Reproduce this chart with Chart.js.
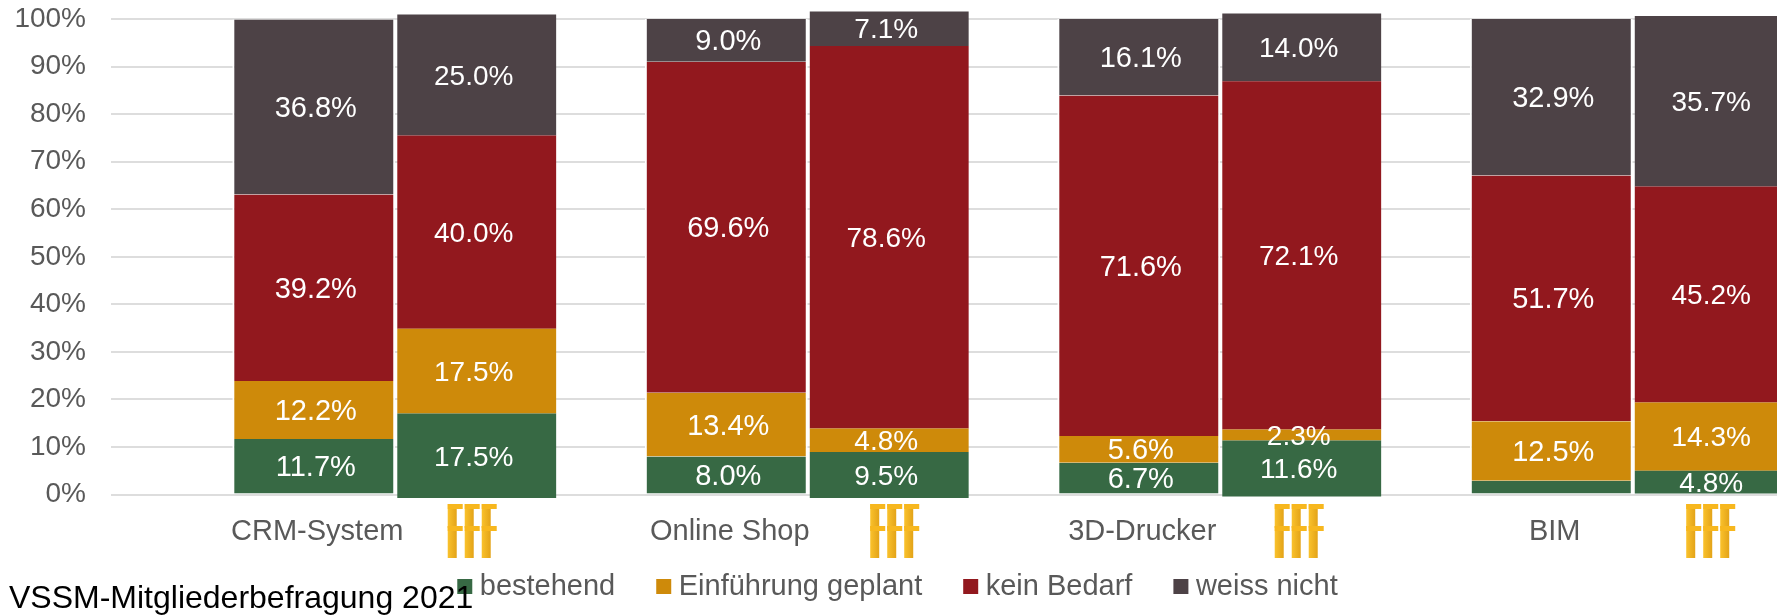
<!DOCTYPE html>
<html>
<head>
<meta charset="utf-8">
<title>VSSM-Mitgliederbefragung 2021</title>
<script src="https://cdn.jsdelivr.net/npm/chart.js@4/dist/chart.umd.min.js"></script>
<style>
  html, body { margin: 0; padding: 0; background: #fff; overflow: hidden; }
  #wrap { position: absolute; left: 0; top: 0; width: 1777px; height: 615px; overflow: hidden; }
  #wrap canvas { display: block; }
</style>
</head>
<body>
<div id="wrap"><div style="width:1839px;height:682px"><canvas id="chart"></canvas></div></div>
<script>
const categories = ['CRM-System', 'Online Shop', '3D-Drucker', 'BIM'];
const seriesNames = ['bestehend', 'Einführung geplant', 'kein Bedarf', 'weiss nicht'];
const seriesColors = ['#376944', '#CE8A0A', '#92181E', '#4D4246'];
const yTicks = [0, 10, 20, 30, 40, 50, 60, 70, 80, 90, 100];

// linke Säule je Kategorie
const bestehendA = [11.7, 8.0, 6.7, 2.9];
const geplantA = [12.2, 13.4, 5.6, 12.5];
const keinBedarfA = [39.2, 69.6, 71.6, 51.7];
const weissNichtA = [36.8, 9.0, 16.1, 32.9];

// rechte Säule (eingefügtes Bild) je Kategorie
const bestehendB = [17.5, 9.5, 11.6, 4.8];
const geplantB = [17.5, 4.8, 2.3, 14.3];
const keinBedarfB = [40.0, 78.6, 72.1, 45.2];
const weissNichtB = [25.0, 7.1, 14.0, 35.7];

const seriesA = [bestehendA, geplantA, keinBedarfA, weissNichtA];
const seriesB = [bestehendB, geplantB, keinBedarfB, weissNichtB];

const plotTop = 19, plotBottom = 494;
// die eingefügten Säulen sitzen je Gruppe etwas anders als die Achse
const pastedTop = [14.5, 11.5, 13.5, 16];
const pastedBottom = [497.5, 497.5, 496, 493];
const logoNudge = [-3, 7, -1, -2];

const FONT = '"Liberation Sans", Arial, sans-serif';
const GREY = '#595959';

const datasets = [];
seriesA.forEach((values, s) => {
  datasets.push({
    label: seriesNames[s], data: values, stack: 'a', yAxisID: 'y',
    backgroundColor: seriesColors[s], borderColor: '#fff',
    borderWidth: { top: 0, right: 2, bottom: 0, left: 2 }, borderSkipped: false, clip: false
  });
});
categories.forEach((cat, g) => {
  seriesB.forEach((values, s) => {
    datasets.push({
      label: seriesNames[s], data: values.map((v, i) => i === g ? v : null), stack: 'b', yAxisID: 'pasted' + g,
      backgroundColor: seriesColors[s], barPercentage: 0.975, borderWidth: 0, clip: false
    });
  });
});

const scales = {
  x: {
    stacked: true,
    afterFit: axis => { axis.height = 62; },
    grid: { display: false },
    border: { display: false },
    ticks: { color: GREY, font: { family: FONT, size: 29 }, padding: 12, labelOffset: -78, maxRotation: 0 }
  },
  y: {
    stacked: true, min: 0, max: 100,
    afterBuildTicks: axis => { axis.ticks = yTicks.map(v => ({ value: v })); },
    afterFit: axis => { axis.width = 189; axis.paddingTop = 0; axis.paddingBottom = 0; },
    border: { display: false },
    grid: { color: '#DDDDDD', lineWidth: 2, tickLength: 78, tickColor: '#DDDDDD' },
    ticks: { color: GREY, font: { family: FONT, size: 28 }, padding: 25, callback: v => v + '%' }
  }
};
categories.forEach((cat, g) => {
  const k = 100 / (pastedBottom[g] - pastedTop[g]);
  scales['pasted' + g] = {
    display: false, stacked: true,
    min: (pastedBottom[g] - plotBottom) * k,
    max: (pastedBottom[g] - plotTop) * k
  };
});

// Beschriftung in den Segmenten
const segmentLabels = {
  id: 'segmentLabels',
  afterDatasetsDraw(chart) {
    const ctx = chart.ctx;
    ctx.save();
    ctx.fillStyle = '#fff';
    ctx.textAlign = 'center';
    ctx.textBaseline = 'middle';
    chart.data.datasets.forEach((ds, d) => {
      const meta = chart.getDatasetMeta(d);
      meta.data.forEach((bar, i) => {
        const v = ds.data[i];
        if (v === null) return;
        if (ds.stack === 'a' && d === 0 && i === 3) return; // BIM bestehend hat kein Label
        const p = bar.getProps(['x', 'y', 'base'], true);
        ctx.font = (ds.stack === 'a' ? '29px ' : '28px ') + FONT;
        const dx = ds.stack === 'a' ? 2 : -3;
        ctx.fillText(v.toFixed(1) + '%', p.x + dx, (p.y + p.base) / 2 + 2);
      });
    });
    ctx.restore();
  }
};

// goldenes Logo unter den rechten Säulen
const logos = {
  id: 'logos',
  afterDraw(chart) {
    const ctx = chart.ctx;
    const top = 504;
    categories.forEach((cat, g) => {
      const bar = chart.getDatasetMeta(4 + g * 4 + 0).data[g];
      const cx = bar.x - 2 + logoNudge[g];
      for (let row = 0; row < 2; row++) {
        const y = top + row * 22;
        const h = row === 0 ? 24 : 32;
        for (let c = 0; c < 3; c++) {
          const x = cx - 24 + c * 17;
          const grad = ctx.createLinearGradient(x, 0, x + 9, 0);
          grad.addColorStop(0, '#FAC22C');
          grad.addColorStop(1, '#E3A318');
          ctx.fillStyle = grad;
          ctx.fillRect(x, y, 9, h);
          ctx.fillStyle = '#F7B71E';
          ctx.fillRect(x, y, 15, 5);
        }
      }
    });
  }
};

// Legende und Titel liegen im Original übereinander, darum nachträglich verschieben
const placeBlocks = {
  id: 'placeBlocks',
  afterLayout(chart) {
    const lg = chart.legend;
    const h = lg.bottom - lg.top;
    lg.left -= 18.5; lg.right -= 18.5;
    lg.top = 524; lg.bottom = lg.top + h;
    const tb = chart.titleBlock;
    const th = tb.bottom - tb.top;
    tb.left = 9; tb.top = 580; tb.bottom = tb.top + th;
  }
};

new Chart(document.getElementById('chart'), {
  type: 'bar',
  data: { labels: categories, datasets: datasets },
  plugins: [segmentLabels, logos, placeBlocks],
  options: {
    responsive: true,
    maintainAspectRatio: false,
    animation: false,
    events: [],
    categoryPercentage: 0.79,
    barPercentage: 1,
    layout: { padding: { top: plotTop, left: 0, right: 0, bottom: 0 } },
    scales: scales,
    plugins: {
      tooltip: { enabled: false },
      title: {
        display: true, text: 'VSSM-Mitgliederbefragung 2021', position: 'bottom', align: 'start',
        color: '#000', font: { family: FONT, size: 32, weight: 'normal' }, padding: 0
      },
      legend: {
        position: 'bottom',
        labels: {
          color: GREY, font: { family: FONT, size: 29 },
          usePointStyle: true, pointStyle: 'rect', boxWidth: 1, boxHeight: 15, padding: 48,
          generateLabels: chart => Chart.defaults.plugins.legend.labels.generateLabels(chart)
            .filter(item => item.datasetIndex < 4)
            .map(item => ({ ...item, lineWidth: 0 }))
        }
      }
    }
  }
});
</script>
</body>
</html>
